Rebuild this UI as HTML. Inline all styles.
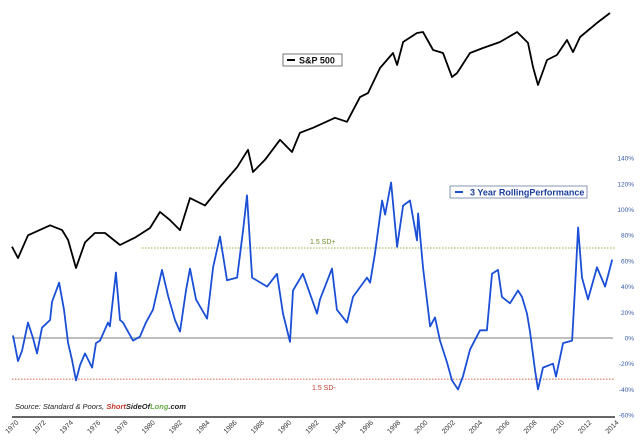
<!DOCTYPE html>
<html><head><meta charset="utf-8">
<style>
html,body{margin:0;padding:0;background:#fff;}
svg{display:block;font-family:"Liberation Sans",sans-serif;}
</style></head>
<body>
<svg id="chart" width="640" height="443" viewBox="0 0 640 443" xmlns="http://www.w3.org/2000/svg">
<g id="grid"></g>
<g id="axes"></g>
<g id="series"></g>
<g>
<rect x="283" y="54" width="59" height="12" fill="#fff" stroke="#555" stroke-width="0.8"/>
<line x1="287" y1="60" x2="295" y2="60" stroke="#000" stroke-width="2"/>
<text x="299" y="63.5" font-size="9" font-weight="bold" fill="#111">S&amp;P 500</text>
</g>
<g>
<rect x="450" y="186" width="137" height="12" fill="#fff" stroke="#6a7aa0" stroke-width="0.8"/>
<line x1="455" y1="192" x2="463" y2="192" stroke="#1a4fd6" stroke-width="2"/>
<text x="470" y="195.5" font-size="9" font-weight="bold" fill="#1c3f9e">3 Year RollingPerformance</text>
</g>
<text x="15" y="409" font-size="7.5" font-style="italic" fill="#222">Source: Standard &amp; Poors, <tspan fill="#c0392b" font-weight="bold">Short</tspan><tspan font-weight="bold">SideOf</tspan><tspan fill="#6ab04c" font-weight="bold">Long</tspan><tspan font-weight="bold">.com</tspan></text>
</svg>
<script>
const spYears=[1970.0,1970.44,1971.17,1972.79,1973.67,1974.11,1974.69,1975.35,1976.08,1976.82,1977.92,1979.02,1980.12,1980.85,1981.58,1982.32,1983.05,1984.15,1985.25,1986.5,1987.3,1987.67,1988.55,1989.65,1990.53,1991.11,1992.07,1993.68,1994.56,1995.51,1996.1,1996.98,1997.93,1998.23,1998.67,1999.69,2000.13,2000.87,2001.6,2002.26,2002.63,2003.58,2004.53,2005.78,2007.03,2007.83,2008.2,2008.56,2009.22,2009.95,2010.69,2011.13,2011.65,2012.89,2013.84];
const spValues=[86,74,100,114,107,94,65,91,103,103,88,97,110,136,122,107,163,148,189,245,308,230,270,351,299,385,411,469,445,616,649,903,1100,939,1272,1432,1451,1144,1100,802,846,1100,1175,1272,1451,1256,915,722,1003,1072,1306,1114,1358,1634,1862];
const perfYears=[1970.07,1970.44,1970.73,1971.17,1971.54,1971.83,1972.2,1972.79,1972.93,1973.45,1973.81,1974.11,1974.4,1974.69,1974.99,1975.35,1975.87,1976.16,1976.45,1977.04,1977.18,1977.62,1977.92,1978.14,1978.87,1979.38,1979.82,1980.34,1981.0,1981.44,1981.95,1982.32,1982.76,1983.05,1983.49,1984.3,1984.74,1985.25,1985.76,1986.5,1986.94,1987.23,1987.6,1988.7,1989.43,1989.87,1990.38,1990.6,1991.33,1992.36,1992.58,1993.46,1993.82,1994.56,1995.0,1996.03,1996.25,1996.61,1997.13,1997.35,1997.79,1998.23,1998.67,1999.18,1999.69,1999.77,2000.13,2000.65,2001.01,2001.38,2001.89,2002.26,2002.7,2003.06,2003.58,2004.31,2004.82,2005.19,2005.63,2005.92,2006.51,2007.1,2007.39,2007.76,2007.98,2008.34,2008.56,2008.93,2009.66,2009.88,2010.4,2011.06,2011.28,2011.5,2011.79,2012.23,2012.89,2013.48,2014.0];
const perfValues=[2,-18,-10,12,0,-12,8,14,28,43,22,-4,-17,-33,-21,-12,-23,-4,-2,12,9,51,14,12,-2,1,12,22,53,33,14,5,37,54,30,15,55,79,45,47,84,111,47,40,50,19,-3,37,50,19,30,54,22,12,32,47,43,66,107,96,121,71,103,107,76,97,55,9,16,-2,-19,-33,-40,-30,-9,6,6,50,53,32,27,37,32,19,5,-25,-40,-23,-20,-30,-4,-2,40,86,47,30,55,40,61];
const yTicks=[140,120,100,80,60,40,20,0,-20,-40,-60];
const yearTicks=[1970,1972,1974,1976,1978,1980,1982,1984,1986,1988,1990,1992,1994,1996,1998,2000,2002,2004,2006,2008,2010,2012,2014];
const sdUpper=70, sdLower=-32;

const NS="http://www.w3.org/2000/svg";
const X=y=>12+(y-1970)*13.64;
const Yp=v=>338-v*1.285;
const Ys=v=>268-76*Math.log(v/65);
function mk(tag,attrs,parent){const e=document.createElementNS(NS,tag);for(const k in attrs)e.setAttribute(k,attrs[k]);parent.appendChild(e);return e;}
const grid=document.getElementById('grid'),axes=document.getElementById('axes'),series=document.getElementById('series');

let l=mk('line',{x1:12,x2:613,y1:Yp(0),y2:Yp(0),stroke:'#a8a8a8','stroke-width':1.5},grid);

l=mk('line',{x1:142,x2:615,y1:Yp(sdUpper),y2:Yp(sdUpper),stroke:'#9ab04a','stroke-width':1,'stroke-dasharray':'1.5,1.5'},grid);

l=mk('line',{x1:12,x2:615,y1:Yp(sdLower),y2:Yp(sdLower),stroke:'#d0604a','stroke-width':1,'stroke-dasharray':'1.5,1.5'},grid);

let t=mk('text',{x:310,y:Yp(sdUpper)-4,'font-size':7,fill:'#6d8a22'},grid);t.textContent='1.5 SD+';

t=mk('text',{x:312,y:Yp(sdLower)+11,'font-size':7,fill:'#c0392b'},grid);t.textContent='1.5 SD-';


l=mk('line',{x1:12,x2:615,y1:417,y2:417,stroke:'#333','stroke-width':1.5},axes);

yTicks.forEach(v=>{const e=mk('text',{x:634,y:Yp(v)+2.5,'font-size':6.5,fill:'#3a5aa8','text-anchor':'end'},axes);e.textContent=v+'%';

});
yearTicks.forEach(y=>{const x=X(y)+7;const e=mk('text',{x:x,y:423,'font-size':7,fill:'#333','text-anchor':'end',transform:`rotate(-45 ${x} 423)`},axes);e.textContent=y;

});

let p=mk('polyline',{points:spYears.map((y,i)=>X(y).toFixed(1)+','+Ys(spValues[i]).toFixed(1)).join(' '),fill:'none',stroke:'#000','stroke-width':1.8,'stroke-linejoin':'round'},series);

p=mk('polyline',{points:perfYears.map((y,i)=>X(y).toFixed(1)+','+Yp(perfValues[i]).toFixed(1)).join(' '),fill:'none',stroke:'#1a4fd6','stroke-width':1.8,'stroke-linejoin':'round'},series);

</script>
</body></html>
